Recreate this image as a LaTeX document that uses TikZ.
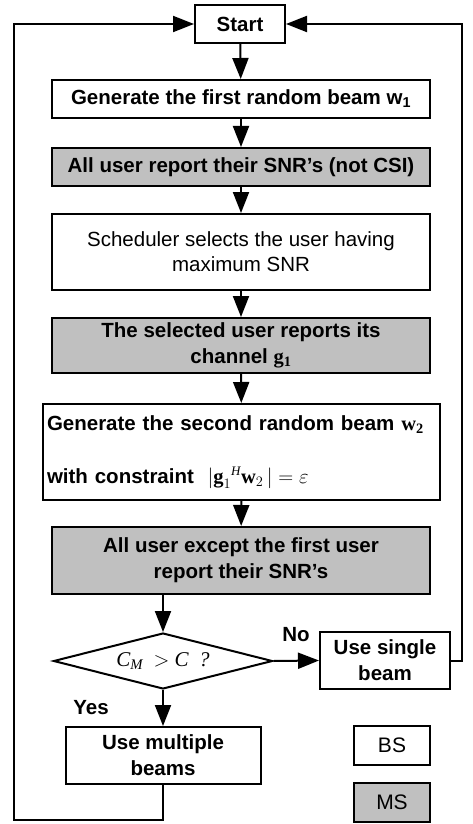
\documentclass[tikz,border=0pt]{standalone}
\usepackage{fontspec}
\setmainfont{Liberation Sans}
\newfontfamily\tms{Liberation Serif}
\usetikzlibrary{shapes.geometric,arrows.meta}
\definecolor{msgray}{RGB}{192,192,192}
\tikzset{
  box/.style={draw, line width=2pt, minimum width=378pt, minimum height=38pt, inner sep=2pt,
    align=center, font=\fontsize{20.5}{26}\selectfont\bfseries},
  msbox/.style={box, fill=msgray},
  arr/.style={line width=2pt, -{Triangle[length=21pt,width=16pt]}},
  lab/.style={font=\fontsize{20.5}{26}\selectfont\bfseries},
  legend/.style={draw, line width=2pt, minimum width=76pt, minimum height=39pt, inner sep=0pt,
    font=\fontsize{21}{26}\selectfont},
}
\begin{document}
\begin{tikzpicture}[x=1pt,y=-1pt]
\useasboundingbox (0,0) rectangle (473,824);
\node[box, minimum width=90pt] (start) at (240,24) {Start};
\node[box] (b1) at (241,99) {Generate the first random beam w\textsubscript{1}};
\node[msbox] (b2) at (241,167) {All user report their SNR's (not CSI)};
\node[box, minimum height=76pt, font=\fontsize{20.5}{25}\selectfont] (b3) at (241,252)
  {Scheduler selects the user having\\maximum SNR};
\node[msbox, minimum height=55pt] (b4) at (241,345.5)
  {The selected user reports its\\channel {\tms\bfseries g\textsubscript{1}}};
\node[box, minimum width=397pt, minimum height=96pt, text width=389pt, align=left] (b5) at (241.5,452)
  {Generate the second random beam {\tms\bfseries w\textsubscript{2}}\\[27pt]
   with constraint\ \ $\left|\hbox{\tms\bfseries g}_1{}^{\hbox{\tms\mdseries\itshape\fontsize{13}{13}\selectfont H}}\hbox{\tms\bfseries w}_2\,\vphantom{\Big|}\right| = \varepsilon$};
\node[msbox, minimum height=67pt] (b6) at (241,560.5)
  {All user except the first user\\report their SNR's};
\node[draw, diamond, line width=2pt, aspect=3.9, minimum width=219pt, minimum height=56pt, inner sep=0pt,
  font=\fontsize{21}{26}\selectfont\tms\itshape] (dia) at (163,661) {C\textsubscript{M}\ \ ${>}$\ C\ \ ?};
\node[box, minimum width=130pt, minimum height=57pt] (single) at (385,660.5) {Use single\\beam};
\node[box, minimum width=195pt, minimum height=57pt] (multi) at (163,755.5) {Use multiple\\beams};
\node[legend] (bs) at (392,745.5) {BS};
\node[legend, fill=msgray] (ms) at (392,802.5) {MS};
\node[lab] (no) at (296,635) {No};
\node[lab] (yes) at (91,708) {Yes};
\coordinate (rtop) at (462,24);
\coordinate (ltop) at (14,24);
\coordinate (lbot) at (14,820);
\draw[arr] (start) -- (b1);
\draw[arr] (b1) -- (b2);
\draw[arr] (b2) -- (b3);
\draw[arr] (b3) -- (b4);
\draw[arr] (b4) -- (b5);
\draw[arr] (b5) -- (b6);
\draw[arr] (b6.south -| dia.north) -- (dia.north);
\draw[arr] (dia.east) -- (single.west);
\draw[arr] (dia.south) -- (multi.north);
\draw[arr] (single.east) -| (rtop) -- (start.east);
\draw[arr] (multi.south) |- (lbot) -- (ltop) -- (start.west);
\end{tikzpicture}
\end{document}
